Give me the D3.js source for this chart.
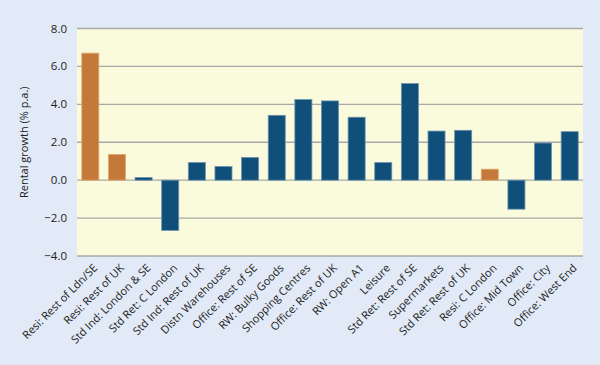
<!DOCTYPE html>
<html><head><meta charset="utf-8">
<script src="https://cdn.jsdelivr.net/npm/d3@7"></script>
<style>
body{margin:0;background:#E1EAF6;}
svg{display:block;font-family:"Open Sans","Noto Sans",sans-serif;}
</style></head><body>
<svg id="chart" width="600" height="365"></svg>
<script>
const categories = ["Resi: Rest of Ldn/SE","Resi: Rest of UK","Std Ind: London & SE","Std Ret: C London","Std Ind: Rest of UK","Distn Warehouses","Office: Rest of SE","RW: Bulky Goods","Shopping Centres","Office: Rest of UK","RW: Open A1","Leisure","Std Ret: Rest of SE","Supermarkets","Std Ret: Rest of UK","Resi: C London","Office: Mid Town","Office: City","Office: West End"];
const values = [6.70,1.36,0.14,-2.65,0.93,0.72,1.20,3.42,4.25,4.18,3.32,0.93,5.10,2.59,2.63,0.58,-1.53,1.96,2.56];
const isResi = [true,true,false,false,false,false,false,false,false,false,false,false,false,false,false,true,false,false,false];
const yTicks = [-4,-2,0,2,4,6,8];
const yTitle = "Rental growth (% p.a.)";

const svg = d3.select("#chart");
const m = {left:77, right:17, top:28.5, bottom:109};
const W = 600, H = 365;
const x = d3.scaleBand().domain(categories).range([m.left, W-m.right]).paddingInner(0.36).paddingOuter(0.18);
const y = d3.scaleLinear().domain([-4,8]).range([H-m.bottom, m.top]);

svg.append("rect").attr("x",0).attr("y",0).attr("width",W).attr("height",H).attr("fill","#E1EAF6");
svg.append("rect").attr("x",m.left).attr("y",m.top).attr("width",W-m.left-m.right).attr("height",y(-4)-m.top).attr("fill","#FAFADC");

// gridlines
svg.append("g").selectAll("line").data(yTicks).join("line")
  .attr("x1",m.left).attr("x2",W-m.right)
  .attr("y1",d=>y(d)).attr("y2",d=>y(d))
  .attr("stroke","#A8A8A8").attr("stroke-width",1.3);

// y tick labels
svg.append("g").selectAll("text").data(yTicks).join("text")
  .attr("x",m.left-10).attr("y",d=>y(d)).attr("dy","0.35em")
  .attr("text-anchor","end").attr("font-size",11.5).attr("fill","#222")
  .text(d=>d3.format(".1f")(d));

svg.append("text").attr("transform",`translate(28,${(y(8)+y(-4))/2}) rotate(-90)`)
  .attr("text-anchor","middle").attr("font-size",11).attr("fill","#222").text(yTitle);

// bars
svg.append("g").selectAll("rect").data(categories).join("rect")
  .attr("x",d=>x(d)).attr("width",x.bandwidth())
  .attr("y",(d,i)=>y(Math.max(0,values[i])))
  .attr("height",(d,i)=>Math.abs(y(values[i])-y(0)))
  .attr("fill",(d,i)=>isResi[i]?"#C4793A":"#0F4F79")
  .attr("stroke",(d,i)=>isResi[i]?"#E0A870":"#6F94AE").attr("stroke-width",0.8);

// x labels
svg.append("g").selectAll("text").data(categories).join("text")
  .attr("transform",d=>`translate(${x(d)+x.bandwidth()/2+5},${y(-4)+10}) rotate(-45)`)
  .attr("text-anchor","end").attr("dy","0.35em").attr("font-size",11).attr("fill","#222")
  .text(d=>d);
</script>
</body></html>
